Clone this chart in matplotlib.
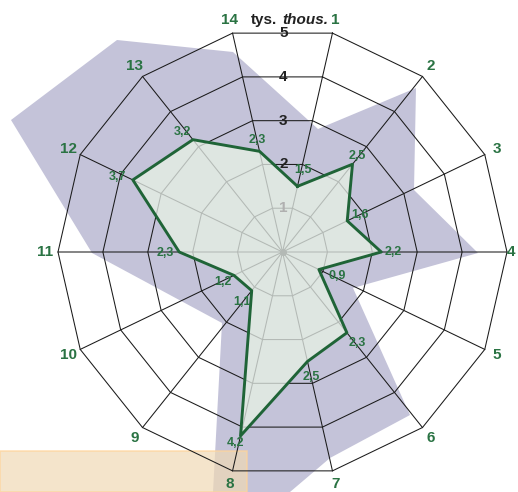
import numpy as np
import matplotlib.pyplot as plt
from matplotlib.patches import Polygon, Rectangle

# data
categories = ['1', '2', '3', '4', '5', '6', '7', '8', '9', '10', '11', '12', '13', '14']
values = [1.5, 2.5, 1.6, 2.2, 0.9, 2.3, 2.5, 4.2, 1.1, 1.2, 2.3, 3.7, 3.2, 2.3]
rings = [1, 2, 3, 4, 5]
ring_labels = ['1', '2', '3', '4', '5']

# decorative background shape (pixel coords of the 518x492 picture)
bg_shape_x = [117, 233, 318, 416, 414, 478, 353, 410, 330, 290, 213, 222, 92, 11]
bg_shape_y = [40, 52, 129, 88, 190, 253, 288, 415, 458, 492, 492, 323, 253, 120]

# value label offsets (points)
val_offsets = [(4, 11.5), (3.3, 6), (9.4, 4.3), (8.5, 0), (13, -5), (7.2, -7.2), (2.5, -11.2),
               (-3.9, -5.2), (-7, -8.2), (-8, -5), (-10, -0.7), (-10.8, 2.2), (-7.2, 5.5), (-1.8, 8.1)]

GREEN = '#2a7343'
W, H = 518, 492
cx, cy = 282.5, 252
S = 44.9  # pixels per unit

fig = plt.figure(figsize=(W / 100, H / 100), dpi=100)
ax = fig.add_axes([0, 0, 1, 1])
ax.set_xlim(-cx / S, (W - cx) / S)
ax.set_ylim(-(H - cy) / S, cy / S)
ax.axis('off')

# background decoration
pts = np.column_stack([np.array(bg_shape_x) / W, 1 - np.array(bg_shape_y) / H])
ax.add_patch(Polygon(pts, closed=True, transform=fig.transFigure, clip_on=False,
                     facecolor='#c4c3d9', edgecolor='none', zorder=0))
ax.add_patch(Rectangle((0, 0), 247 / W, 41 / H, transform=fig.transFigure, clip_on=False,
                       facecolor='#f0d9b5', edgecolor='#ffd49a', lw=1.2, alpha=0.7, zorder=1))

n = len(categories)
ang = np.deg2rad(102.857 - np.arange(1, n + 1) * 360 / n)
ca, sa = np.cos(ang), np.sin(ang)


def ring_xy(r):
    return np.append(r * ca, r * ca[0]), np.append(r * sa, r * sa[0])


# black grid
grid_lines = []
for r in rings:
    x, y = ring_xy(r)
    grid_lines.append((x, y))
for i in range(n):
    grid_lines.append(([0, 5 * ca[i]], [0, 5 * sa[i]]))
for x, y in grid_lines:
    ax.plot(x, y, color='#1a1a1a', lw=0.75, zorder=2)

# data polygon
v = np.array(values)
poly = Polygon(np.column_stack([v * ca, v * sa]), closed=True,
               facecolor='#dee6e1', edgecolor='none', zorder=3)
ax.add_patch(poly)
for x, y in grid_lines:
    ln, = ax.plot(x, y, color='#b3b9b5', lw=0.75, zorder=4)
    ln.set_clip_path(poly)
ax.plot(0, 0, 'o', color='#b3b9b5', ms=4, zorder=4)
ax.plot(np.append(v * ca, v[0] * ca[0]), np.append(v * sa, v[0] * sa[0]),
        color='#1f6437', lw=2.1, zorder=5)

# ring labels
for r, lab in zip(rings, ring_labels):
    yy = r * np.cos(np.pi / n)
    ax.text(0.02, yy, lab, ha='center', va='center', fontsize=11, fontweight='bold',
            family='Liberation Sans', color='#b0b0b0' if r == 1 else '#222222', zorder=6)

# category labels
for i, c in enumerate(categories):
    lx, ly = 5.29 * ca[i], 5.29 * sa[i]
    ax.text(min(lx, (W - 7 - cx) / S), ly, c, ha='center', va='center', fontsize=11,
            fontweight='bold', family='Liberation Sans', color=GREEN, zorder=6)

# value labels
for i, val in enumerate(values):
    ax.annotate(f'{val:.1f}'.replace('.', ','), (val * ca[i], val * sa[i]),
                xytext=val_offsets[i], textcoords='offset points', ha='center', va='center',
                fontsize=9, fontweight='bold', family='Liberation Sans', color=GREEN, zorder=7)

# unit label
ax.text(-5.5 / S, 5.17, 'tys.', ha='right', va='center', fontsize=11, fontweight='bold',
        family='Liberation Sans', color='#222222')
ax.text(0, 5.17, 'thous.', ha='left', va='center', fontsize=11, fontweight='bold',
        style='italic', family='Liberation Sans', color='#222222')

fig.savefig('out.png', dpi=100)
